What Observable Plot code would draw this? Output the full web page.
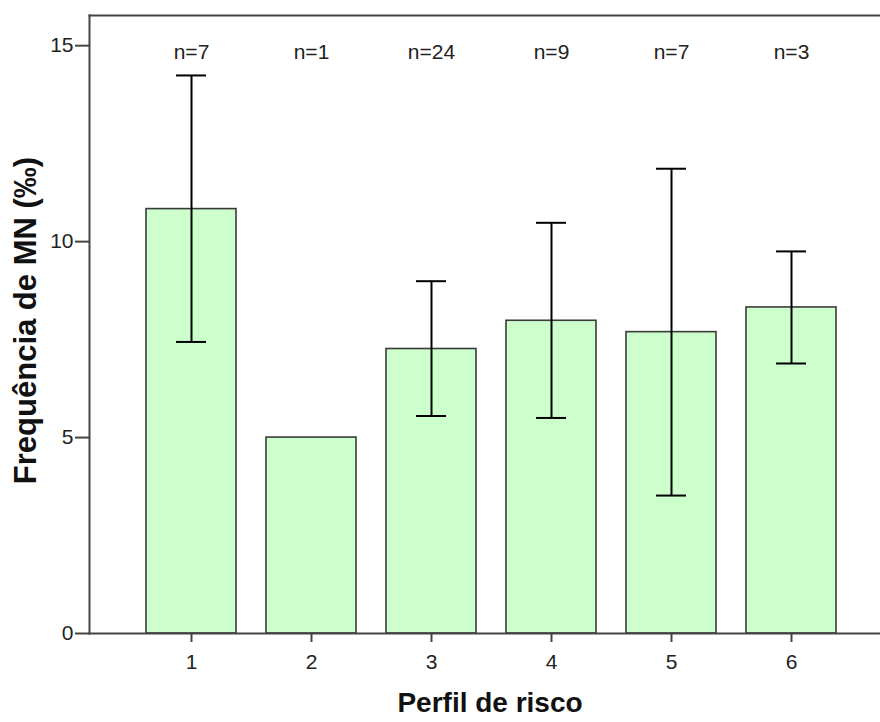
<!DOCTYPE html>
<html>
<head>
<meta charset="utf-8">
<script src="https://cdn.jsdelivr.net/npm/d3@7"></script>
<script src="https://cdn.jsdelivr.net/npm/@observablehq/plot@0.6"></script>
<style>
  html, body { margin: 0; padding: 0; background: #fff; }
  #chart svg { display: block; }
</style>
</head>
<body>
<div id="chart"></div>
<script>
// Data
const categories = ["1", "2", "3", "4", "5", "6"];
const means = [10.83, 5.0, 7.26, 7.98, 7.69, 8.32];
const upper = [14.24, null, 8.99, 10.48, 11.86, 9.75];
const lower = [7.44, null, 5.55, 5.50, 3.52, 6.89];
const counts = [7, 1, 24, 9, 7, 3];
const yTicks = [0, 5, 10, 15];
const yMax = 15.77;
const xLabel = "Perfil de risco";
const yLabel = "Frequência de MN (‰)";

const rows = categories.map((c, i) => ({
  cat: c, mean: means[i], hi: upper[i], lo: lower[i], n: counts[i]
}));
const errRows = rows.filter(d => d.hi != null);

const font = "'Liberation Sans', Arial, sans-serif";

const chart = Plot.plot({
  width: 880,
  height: 722,
  marginTop: 15,
  marginBottom: 89,
  marginLeft: 89,
  marginRight: 0,
  style: { fontFamily: font, fontSize: "21px", color: "#222", background: "#fff" },
  x: { domain: categories, range: [129, 852], paddingInner: 0.25, paddingOuter: 0.125 },
  y: { domain: [0, yMax] },
  marks: [
    Plot.barY(rows, { x: "cat", y: "mean", fill: "#ccffcc", stroke: "#3a3a3a", strokeWidth: 1.6 }),
    Plot.ruleX(errRows, { x: "cat", y1: "lo", y2: "hi", stroke: "#000", strokeWidth: 2 }),
    Plot.tickY(errRows, { x: "cat", y: "hi", stroke: "#000", strokeWidth: 2, insetLeft: 30, insetRight: 30 }),
    Plot.tickY(errRows, { x: "cat", y: "lo", stroke: "#000", strokeWidth: 2, insetLeft: 30, insetRight: 30 }),
    Plot.text(rows, { x: "cat", text: d => "n=" + d.n, frameAnchor: "top", dy: 29, fontSize: 21, fill: "#222" }),
    Plot.frame({ anchor: "top", stroke: "#444", strokeWidth: 2 }),
    Plot.frame({ anchor: "left", stroke: "#444", strokeWidth: 2 }),
    Plot.frame({ anchor: "bottom", stroke: "#444", strokeWidth: 2 }),
    Plot.axisY({ ticks: yTicks, tickSize: 14, tickPadding: 2, label: null, stroke: "#444", strokeWidth: 2, fontSize: 21 }),
    Plot.axisX({ tickSize: 9, tickPadding: 12, label: null, stroke: "#444", strokeWidth: 2, fontSize: 21 }),
    Plot.text([xLabel], { frameAnchor: "bottom", textAnchor: "middle", dx: 5, dy: 78, fontSize: 28, fontWeight: "bold", fill: "#111" }),
    Plot.text([yLabel], { frameAnchor: "left", textAnchor: "middle", rotate: -90, dx: -63, dy: -4, fontSize: 31, fontWeight: "bold", fill: "#111" })
  ]
});

document.getElementById("chart").appendChild(chart);
</script>
</body>
</html>
